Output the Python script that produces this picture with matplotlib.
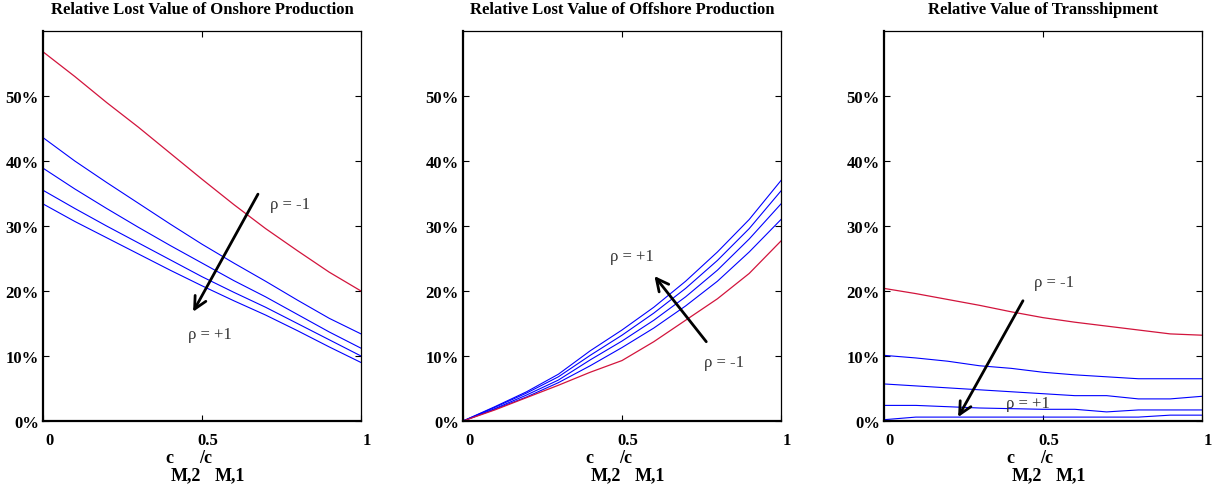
#!/usr/bin/env python3
"""Relative lost value of onshore / offshore production and value of transshipment."""

import matplotlib

matplotlib.use("Agg")
import matplotlib.pyplot as plt
import matplotlib.transforms as mtransforms

# c_M,2 / c_M,1 grid
COST_RATIO = [0.0, 0.1, 0.2, 0.3, 0.4, 0.5, 0.6, 0.7, 0.8, 0.9, 1.0]

# Onshore production: rho = -1 (red) and four blue curves towards rho = +1
ONSHORE_RED = [0.568, 0.530, 0.490, 0.452, 0.412, 0.372, 0.333, 0.296, 0.262, 0.229, 0.200]
ONSHORE_BLUE = [
    [0.436, 0.400, 0.367, 0.335, 0.303, 0.272, 0.243, 0.215, 0.186, 0.158, 0.134],
    [0.389, 0.357, 0.327, 0.298, 0.270, 0.243, 0.216, 0.191, 0.164, 0.137, 0.112],
    [0.355, 0.327, 0.300, 0.274, 0.248, 0.222, 0.198, 0.175, 0.150, 0.125, 0.100],
    [0.334, 0.307, 0.282, 0.257, 0.232, 0.208, 0.185, 0.163, 0.139, 0.114, 0.090],
]

# Offshore production
OFFSHORE_RED = [0.0, 0.017, 0.036, 0.055, 0.075, 0.093, 0.122, 0.155, 0.188, 0.227, 0.277]
OFFSHORE_BLUE = [
    [0.0, 0.022, 0.045, 0.072, 0.108, 0.140, 0.175, 0.215, 0.260, 0.310, 0.370],
    [0.0, 0.021, 0.043, 0.068, 0.101, 0.132, 0.166, 0.204, 0.247, 0.296, 0.354],
    [0.0, 0.019, 0.040, 0.063, 0.094, 0.123, 0.155, 0.191, 0.232, 0.280, 0.334],
    [0.0, 0.018, 0.037, 0.059, 0.085, 0.113, 0.143, 0.177, 0.215, 0.260, 0.310],
]

# Transshipment
TRANS_RED = [0.204, 0.196, 0.187, 0.178, 0.168, 0.159, 0.152, 0.146, 0.140, 0.134, 0.132]
TRANS_BLUE = [
    [0.101, 0.097, 0.092, 0.085, 0.081, 0.075, 0.071, 0.068, 0.065, 0.065, 0.065],
    [0.057, 0.054, 0.051, 0.048, 0.045, 0.042, 0.039, 0.039, 0.034, 0.034, 0.038],
    [0.024, 0.024, 0.022, 0.020, 0.019, 0.018, 0.018, 0.014, 0.017, 0.017, 0.017],
    [0.002, 0.006, 0.006, 0.006, 0.006, 0.006, 0.006, 0.006, 0.006, 0.009, 0.009],
]

TITLES = [
    "Relative Lost Value of Onshore Production",
    "Relative Lost Value of Offshore Production",
    "Relative Value of Transshipment",
]
Y_TICKS = [0.0, 0.1, 0.2, 0.3, 0.4, 0.5]
Y_TICK_LABELS = ["0%", "10%", "20%", "30%", "40%", "50%"]
X_TICKS = [0.0, 0.5, 1.0]
X_TICK_LABELS = ["0", "0.5", "1"]
# x label c_{M,2}/c_{M,1}, drawn piecewise: (text, dx px from axes centre, dy px from axes bottom)
XLABEL_PARTS = [("c", -37, -41), ("M,2", -31, -58), ("/c", -3, -41), ("M,1", 13, -58)]

# arrow (tail, head) and label positions in data coords
ARROWS = [
    ((0.676, 0.349), (0.472, 0.168)),
    ((0.765, 0.122), (0.602, 0.223)),
    ((0.437, 0.185), (0.233, 0.006)),
]
LABEL_MINUS = [(0.714, 0.334), (0.759, 0.091), (0.472, 0.214)]
LABEL_PLUS = [(0.456, 0.134), (0.461, 0.254), (0.384, 0.028)]

RED = "#D2143C"
BLUE = "#0000FF"
FONT = "Liberation Serif"
AX_LEFTS = [43, 463, 884]
AX_W = 318
AX_BOTTOM = 422
AX_TOP = 32
FIG_W_PX, FIG_H_PX = 1225, 489


def style_axes(fig, ax, title):
    ax.set_xlim(0, 1)
    ax.set_ylim(0, 0.6)
    ax.set_xticks(X_TICKS)
    ax.set_xticklabels(X_TICK_LABELS)
    ax.set_yticks(Y_TICKS)
    ax.set_yticklabels(Y_TICK_LABELS)
    ax.tick_params(direction="in", length=4, width=0.8, top=True, right=True,
                   labelsize=12, pad=3)
    ax.tick_params(axis="x", pad=8)
    for lab in ax.get_xticklabels() + ax.get_yticklabels():
        lab.set_fontweight("bold")
        lab.set_fontfamily(FONT)
    # matlab-ish offset of x tick labels
    shift = mtransforms.ScaledTranslation(6 / 100, 0, fig.dpi_scale_trans)
    for lab in ax.get_xticklabels():
        lab.set_transform(lab.get_transform() + shift)
    for side in ("top", "right"):
        ax.spines[side].set_linewidth(0.9)
    for side in ("left", "bottom"):
        ax.spines[side].set_linewidth(1.6)
    ax.set_title(title, fontsize=12, fontweight="bold", family=FONT, pad=13)

    for text, dx, dy in XLABEL_PARTS:
        off = mtransforms.ScaledTranslation(dx / 100, dy / 100, fig.dpi_scale_trans)
        ax.text(0.5, 0.0, text, transform=ax.transAxes + off, ha="left",
                va="baseline", fontsize=13, fontweight="bold", family=FONT)


def draw_panel(fig, ax, red, blues, arrow, lab_minus, lab_plus, title):
    for ys in blues:
        ax.plot(COST_RATIO, ys, color=BLUE, lw=0.8)
    ax.plot(COST_RATIO, red, color=RED, lw=0.9)
    tail, head = arrow
    ax.annotate("", xy=head, xytext=tail,
                arrowprops=dict(arrowstyle="->", lw=2.0, color="black",
                                mutation_scale=22, shrinkA=0, shrinkB=0))
    ax.text(*lab_minus, "ρ = -1", fontsize=12, family=FONT, color="#333333",
            va="center", ha="left")
    ax.text(*lab_plus, "ρ = +1", fontsize=12, family=FONT, color="#333333",
            va="center", ha="left")
    style_axes(fig, ax, title)


def main():
    fig = plt.figure(figsize=(FIG_W_PX / 100, FIG_H_PX / 100), dpi=100)

    panels = [
        (ONSHORE_RED, ONSHORE_BLUE),
        (OFFSHORE_RED, OFFSHORE_BLUE),
        (TRANS_RED, TRANS_BLUE),
    ]
    for i, (red, blues) in enumerate(panels):
        rect = [
            AX_LEFTS[i] / FIG_W_PX,
            (FIG_H_PX - AX_BOTTOM) / FIG_H_PX,
            AX_W / FIG_W_PX,
            (AX_BOTTOM - AX_TOP) / FIG_H_PX,
        ]
        ax = fig.add_axes(rect)
        draw_panel(fig, ax, red, blues, ARROWS[i], LABEL_MINUS[i], LABEL_PLUS[i],
                   TITLES[i])

    fig.savefig("out.png", dpi=100)
    plt.close(fig)


if __name__ == "__main__":
    main()
